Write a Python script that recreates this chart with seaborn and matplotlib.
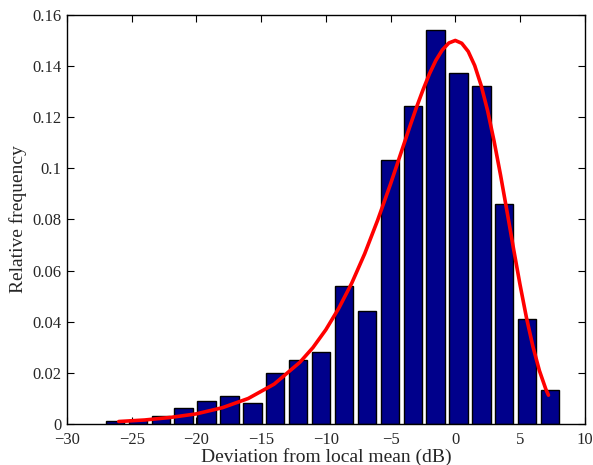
import numpy as np
import pandas as pd
import matplotlib
matplotlib.use('Agg')
import matplotlib.pyplot as plt
import seaborn as sns

# histogram bins (centre in dB) and relative frequency
bin_centers = [-26.3, -24.53, -22.76, -20.99, -19.22, -17.45, -15.68, -13.91,
               -12.14, -10.37, -8.6, -6.83, -5.06, -3.29, -1.52, 0.25,
               2.02, 3.79, 5.56, 7.33]
rel_freq = [0.0012, 0.0015, 0.0031, 0.0061, 0.0091, 0.0111, 0.0082, 0.0201,
            0.0251, 0.0281, 0.0541, 0.0442, 0.1031, 0.1242, 0.1541, 0.1372,
            0.1321, 0.0861, 0.0410, 0.0132]

# fitted curve
curve_x = [-26, -24, -22, -20, -18, -16, -14, -12, -11, -10, -9, -8, -7, -6,
           -5, -4, -3.5, -3, -2.5, -2, -1.5, -1, -0.5, 0, 0.5, 1, 1.5, 2,
           2.5, 3, 3.5, 4, 4.5, 5, 5.5, 6, 6.5, 7, 7.2]
curve_y = [0.0010, 0.0016, 0.0026, 0.0040, 0.0064, 0.0100, 0.0156, 0.0242,
           0.0299, 0.0369, 0.0453, 0.0551, 0.0666, 0.0797, 0.0939, 0.1090,
           0.1165, 0.1238, 0.1306, 0.1369, 0.1422, 0.1463, 0.1490, 0.1500,
           0.1489, 0.1457, 0.1402, 0.1324, 0.1225, 0.1106, 0.0973, 0.0831,
           0.0686, 0.0546, 0.0416, 0.0303, 0.0209, 0.0136, 0.0113]

sns.set_style("ticks")
plt.rcParams['font.family'] = ['Liberation Serif', 'DejaVu Serif']
plt.rcParams['xtick.direction'] = 'in'
plt.rcParams['ytick.direction'] = 'in'

fig = plt.figure(figsize=(5.93, 4.65), dpi=100)
ax = fig.add_axes([0.113, 0.088, 0.873, 0.880])

hist = pd.DataFrame({'x': bin_centers, 'f': rel_freq})
sns.barplot(data=hist, x='x', y='f', native_scale=True, errorbar=None,
            color='#00008B', saturation=1, width=0.8,
            edgecolor='black', linewidth=1.0, ax=ax)

sns.lineplot(x=curve_x, y=curve_y, color='red', linewidth=2.6, sort=False, ax=ax)

ax.set_xlim(-30, 10)
ax.set_ylim(0, 0.16)
ax.set_xticks([-30, -25, -20, -15, -10, -5, 0, 5, 10])
ax.set_yticks([0, 0.02, 0.04, 0.06, 0.08, 0.1, 0.12, 0.14, 0.16])
ax.set_yticklabels(['0', '0.02', '0.04', '0.06', '0.08', '0.1', '0.12', '0.14', '0.16'])
ax.tick_params(which='both', top=True, right=True, length=5, width=0.8,
               labelsize=12, color='black')
ax.tick_params(axis='x', pad=6)
ax.tick_params(axis='y', pad=4)
for s in ax.spines.values():
    s.set_linewidth(1.0)
    s.set_color('black')

ax.set_xlabel('Deviation from local mean (dB)', fontsize=14, labelpad=0)
ax.set_ylabel('Relative frequency', fontsize=14, labelpad=4)

fig.savefig('out.png', dpi=100)
